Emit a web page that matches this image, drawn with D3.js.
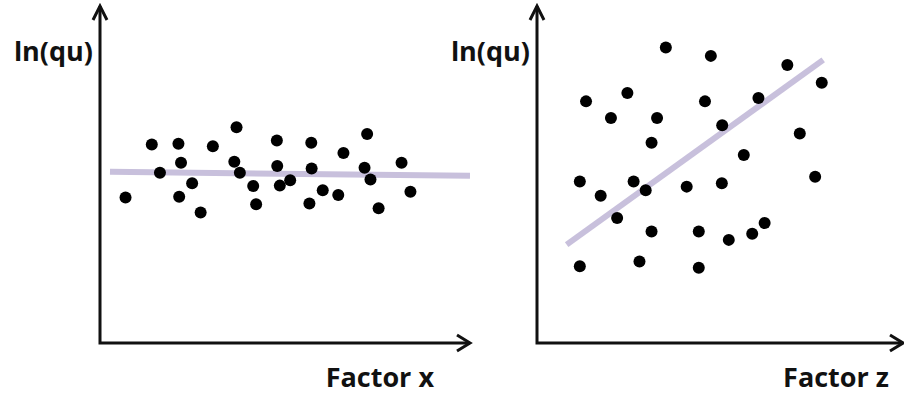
<!DOCTYPE html>
<html lang="en">
<head>
    <meta charset="UTF-8">
    <title>ln(qu) vs factors</title>
    <script src="https://cdnjs.cloudflare.com/ajax/libs/d3/7.8.5/d3.min.js"></script>
    <style>
        body { margin: 0; background: #fff; overflow: hidden; }
        svg { display: block; }
        .label { font-family: "Open Sans", Arial, sans-serif; font-weight: bold; font-size: 27px; fill: #111; }
        .axis { fill: none; stroke: #111; stroke-width: 3px; }
        .fit { stroke: #c8c0dc; stroke-width: 6px; }
    </style>
</head>
<body>
<svg width="904" height="398"></svg>
<script>
    // values on a 0-100 scale for both axes
    const xLabels = ["Factor x", "Factor z"];
    const yLabel = "ln(qu)";

    const leftX = [6.9, 14.0, 16.2, 21.2, 21.9, 21.4, 24.9, 27.2, 30.5, 36.9, 36.3, 37.8, 41.4, 42.2, 47.8,
                   47.9, 48.6, 51.4, 57.1, 57.2, 56.6, 60.2, 64.4, 65.8, 72.2, 71.5, 73.1, 75.3, 81.5, 83.9];
    const leftY = [43.2, 58.9, 50.5, 59.1, 53.5, 43.4, 47.4, 38.7, 58.4, 64.0, 53.8, 50.5, 46.6, 41.2, 60.1,
                   52.5, 46.7, 48.3, 59.4, 51.8, 41.4, 45.3, 43.9, 56.4, 62.0, 52.0, 48.5, 40.0, 53.5, 44.9];
    const leftFit = [[2.7, 50.8], [100, 49.6]];

    const rightX = [35.2, 47.5, 68.4, 77.8, 13.4, 24.7, 45.9, 60.5, 20.2, 32.8, 50.6, 31.3, 71.8, 56.5, 11.7,
                    26.4, 29.7, 17.4, 40.9, 50.5, 76.0, 21.9, 31.3, 44.2, 52.4, 58.8, 62.2, 11.7, 28.0, 44.2];
    const rightY = [87.7, 85.2, 82.5, 77.2, 71.7, 74.2, 71.7, 72.7, 66.8, 66.8, 64.6, 59.4, 62.2, 55.8, 47.9,
                    47.9, 45.3, 43.7, 46.4, 47.4, 49.3, 37.1, 33.1, 33.1, 30.6, 32.4, 35.6, 22.8, 24.2, 22.3];
    const rightFit = [[8.1, 29.2], [78.2, 84.0]];

    const panels = [
        { x0: 100, x1: 470, xs: leftX, ys: leftY, fit: leftFit, xLabel: xLabels[0], labX: 434 },
        { x0: 537, x1: 903, xs: rightX, ys: rightY, fit: rightFit, xLabel: xLabels[1], labX: 889 }
    ];

    const svg = d3.select("svg");
    const yBottom = 343, yTop = 6;

    panels.forEach(p => {
        const x = d3.scaleLinear().domain([0, 100]).range([p.x0, p.x1]);
        const y = d3.scaleLinear().domain([0, 100]).range([yBottom, yTop]);
        const g = svg.append("g");

        // fit line first so dots sit on top
        g.append("line")
            .attr("class", "fit")
            .attr("x1", x(p.fit[0][0])).attr("y1", y(p.fit[0][1]))
            .attr("x2", x(p.fit[1][0])).attr("y2", y(p.fit[1][1]));

        g.selectAll("circle")
            .data(d3.zip(p.xs, p.ys))
            .enter()
            .append("circle")
            .attr("cx", d => x(d[0]))
            .attr("cy", d => y(d[1]))
            .attr("r", 6)
            .style("fill", "#000");

        // axes with arrow heads
        const ax = d3.path();
        ax.moveTo(x(0), y(100));
        ax.lineTo(x(0), y(0));
        ax.lineTo(x(100), y(0));
        g.append("path").attr("class", "axis").attr("d", ax.toString()).style("stroke-linejoin", "miter");

        const head = d3.path();
        head.moveTo(x(0) - 7, y(100) + 14);
        head.lineTo(x(0), y(100));
        head.lineTo(x(0) + 7, y(100) + 14);
        head.moveTo(x(100) - 13, y(0) - 8);
        head.lineTo(x(100), y(0));
        head.lineTo(x(100) - 13, y(0) + 8);
        g.append("path").attr("class", "axis").attr("d", head.toString());

        g.append("text")
            .attr("class", "label")
            .attr("x", x(0) - 7)
            .attr("y", 61)
            .attr("text-anchor", "end")
            .text(yLabel);

        g.append("text")
            .attr("class", "label")
            .attr("x", p.labX)
            .attr("y", 387)
            .attr("text-anchor", "end")
            .text(p.xLabel);
    });
</script>
</body>
</html>
